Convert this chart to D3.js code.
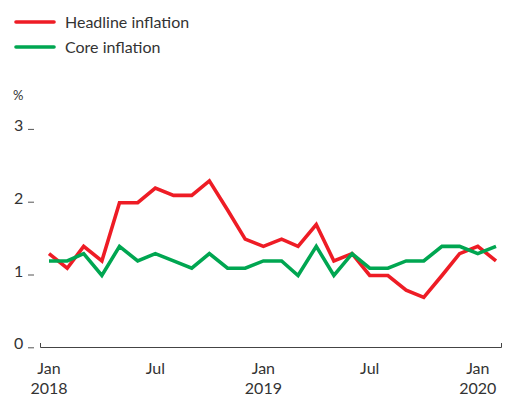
<!DOCTYPE html>
<html><head><meta charset="utf-8">
<script src="https://cdn.jsdelivr.net/npm/d3@7"></script>
<style>body{margin:0;background:#fff}svg{display:block}text{font-family:Lato,"Noto Sans",sans-serif;fill:#333}</style>
</head><body><svg id="c" width="505" height="396"></svg>
<script>
const months = ["2018-01","2018-02","2018-03","2018-04","2018-05","2018-06","2018-07","2018-08","2018-09","2018-10","2018-11","2018-12","2019-01","2019-02","2019-03","2019-04","2019-05","2019-06","2019-07","2019-08","2019-09","2019-10","2019-11","2019-12","2020-01","2020-02"];
const headline = [1.3,1.1,1.4,1.2,2.0,2.0,2.2,2.1,2.1,2.3,1.9,1.5,1.4,1.5,1.4,1.7,1.2,1.3,1.0,1.0,0.8,0.7,1.0,1.3,1.4,1.2];
const core = [1.2,1.2,1.3,1.0,1.4,1.2,1.3,1.2,1.1,1.3,1.1,1.1,1.2,1.2,1.0,1.4,1.0,1.3,1.1,1.1,1.2,1.2,1.4,1.4,1.3,1.4];
const yTicks = [0,1,2,3];
const xTickDates = ["2018-01","2018-07","2019-01","2019-07","2020-01"];
const xTickLabels = [["Jan","2018"],["Jul",""],["Jan","2019"],["Jul",""],["Jan","2020"]];
const seriesNames = ["Headline inflation","Core inflation"];
const colors = ["#ee1c25","#00a651"];

const parse = d3.timeParse("%Y-%m");
const dates = months.map(parse);
const svg = d3.select("#c");
const x = d3.scaleTime().domain([dates[0], dates[dates.length-1]]).range([49,496]);
const y = d3.scaleLinear().domain([0,3]).range([348.3,129.9]);

// y labels
const yg = svg.append("g");
yTicks.forEach(t=>{
  yg.append("text").attr("x",14).attr("y",y(t)+1).attr("font-size",16).text(t);
  yg.append("line").attr("x1",28).attr("x2",34).attr("y1",y(t)-0.5).attr("y2",y(t)-0.5).attr("stroke","#555").attr("stroke-width",1);
});
svg.append("text").attr("x",13).attr("y",100).attr("font-size",13).text("%");

// x axis line
svg.append("path").attr("d",`M40.5,343V347.5H501.5V343`).attr("fill","none").attr("stroke","#444").attr("stroke-width",1);

// x labels
xTickDates.forEach((d,i)=>{
  const xx = x(parse(d));
  const t = svg.append("text").attr("text-anchor","middle").attr("font-size",16);
  t.append("tspan").attr("x",xx).attr("y",374).text(xTickLabels[i][0]);
  if (xTickLabels[i][1]) t.append("tspan").attr("x",xx).attr("y",394).text(xTickLabels[i][1]);
});

const line = d3.line().x((d,i)=>x(dates[i])).y(d=>y(d));
[headline, core].forEach((s,k)=>{
  svg.append("path").datum(s).attr("d",line).attr("fill","none").attr("stroke",colors[k]).attr("stroke-width",3.6).attr("stroke-linejoin","miter");
});
// draw headline on top? reference shows green over red in places
// legend
seriesNames.forEach((n,k)=>{
  const yy = 22 + k*25;
  svg.append("line").attr("x1",16).attr("x2",54).attr("y1",yy).attr("y2",yy).attr("stroke",colors[k]).attr("stroke-width",3.6).attr("stroke-linecap","round");
  svg.append("text").attr("x",65).attr("y",yy+6).attr("font-size",16).text(n);
});
</script></body></html>
